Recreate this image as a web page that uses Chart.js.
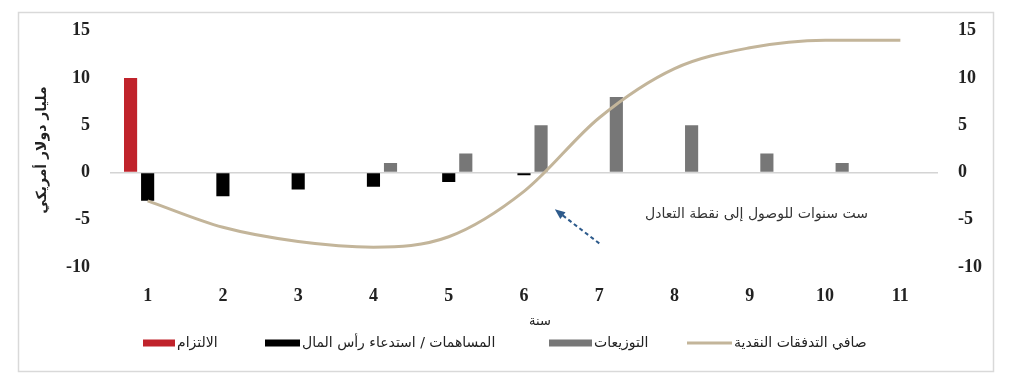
<!DOCTYPE html>
<html lang="ar">
<head>
<meta charset="utf-8">
<script src="https://cdn.jsdelivr.net/npm/chart.js@4.4.1/dist/chart.umd.min.js"></script>
<style>
  html, body { margin: 0; padding: 0; background: #fff; }
  #wrap { width: 1024px; height: 374px; position: relative; }
</style>
</head>
<body>
<div id="wrap"><canvas id="c" width="1024" height="374"></canvas></div>
<script>
// Years of the fund's life
const years = ['1', '2', '3', '4', '5', '6', '7', '8', '9', '10', '11'];

// Cash flows, billions of US dollars
const commitment    = [10, null, null, null, null, null, null, null, null, null, null];
const contributions = [-3, -2.5, -1.8, -1.5, -1, -0.3, null, null, null, null, null];
const distributions = [null, null, null, 1, 2, 5, 8, 5, 2, 1, null];
const netCashFlow   = [-3, -5.8, -7.3, -7.9, -6.8, -2, 5.8, 11, 13.2, 14, 14];

// Value axis ticks
const yTicks = [-10, -5, 0, 5, 10, 15];

const seriesNames = ['الالتزام', 'المساهمات / استدعاء رأس المال', 'التوزيعات', 'صافي التدفقات النقدية'];
const yTitle = 'مليار دولار أمريكي';
const xTitle = 'سنة';
const noteText = 'ست سنوات للوصول إلى نقطة التعادل';

const RED = '#C0232B', BLACK = '#000000', GREY = '#777777', TAN = '#C3B59A';
const arabicFont = '"DejaVu Sans", "Noto Sans", sans-serif';
const numFont = { family: '"Liberation Serif", "DejaVu Serif", serif', size: 18, weight: 'bold' };

// Frame, titles, break-even note and legend drawn on the canvas
const decorations = {
  id: 'decorations',
  beforeDraw(chart) {
    const ctx = chart.ctx;
    ctx.save();
    ctx.fillStyle = '#fff';
    ctx.fillRect(0, 0, chart.width, chart.height);
    ctx.strokeStyle = '#D9D9D9';
    ctx.lineWidth = 1.5;
    ctx.strokeRect(18.5, 12.5, 975, 359);
    ctx.restore();
  },
  afterDatasetsDraw(chart) {
    const ctx = chart.ctx;
    const xs = chart.scales.x, ys = chart.scales.y;
    ctx.save();

    // dashed arrow pointing at the break-even crossing
    const x0 = xs.getPixelForValue(6.0), y0 = ys.getPixelForValue(-7.5);
    const x1 = xs.getPixelForValue(5.41), y1 = ys.getPixelForValue(-3.9);
    const ang = Math.atan2(y1 - y0, x1 - x0);
    const head = 11;
    ctx.strokeStyle = '#2E5B8C';
    ctx.fillStyle = '#2E5B8C';
    ctx.lineWidth = 2;
    ctx.setLineDash([4, 3]);
    ctx.beginPath();
    ctx.moveTo(x0, y0);
    ctx.lineTo(x1 - Math.cos(ang) * head * 0.8, y1 - Math.sin(ang) * head * 0.8);
    ctx.stroke();
    ctx.setLineDash([]);
    ctx.beginPath();
    ctx.moveTo(x1, y1);
    ctx.lineTo(x1 - Math.cos(ang - 0.4) * head, y1 - Math.sin(ang - 0.4) * head);
    ctx.lineTo(x1 - Math.cos(ang + 0.4) * head, y1 - Math.sin(ang + 0.4) * head);
    ctx.closePath();
    ctx.fill();

    // note text
    ctx.fillStyle = '#333';
    ctx.font = '14px ' + arabicFont;
    ctx.direction = 'rtl';
    ctx.textAlign = 'right';
    ctx.textBaseline = 'middle';
    ctx.fillText(noteText, xs.getPixelForValue(9.57), ys.getPixelForValue(-4.4));
    ctx.restore();
  },
  afterDraw(chart) {
    const ctx = chart.ctx;
    ctx.save();
    ctx.direction = 'rtl';
    ctx.textBaseline = 'middle';
    ctx.fillStyle = '#222';

    // value axis title, rotated
    ctx.save();
    ctx.translate(42, 150);
    ctx.rotate(-Math.PI / 2);
    ctx.textAlign = 'center';
    ctx.font = 'bold 14px ' + arabicFont;
    ctx.fillText(yTitle, 0, 0);
    ctx.restore();

    // category axis title
    ctx.textAlign = 'center';
    ctx.font = '13px ' + arabicFont;
    ctx.fillText(xTitle, 540, 322);

    // legend
    const items = [
      { name: seriesNames[0], color: RED,   x: 143, w: 32, h: 7 },
      { name: seriesNames[1], color: BLACK, x: 265, w: 35, h: 7 },
      { name: seriesNames[2], color: GREY,  x: 549, w: 43, h: 7 },
      { name: seriesNames[3], color: TAN,   x: 687, w: 45, h: 3 }
    ];
    const ly = 343;
    ctx.font = '14px ' + arabicFont;
    ctx.textAlign = 'left';
    items.forEach(it => {
      ctx.fillStyle = it.color;
      ctx.fillRect(it.x, ly - it.h / 2, it.w, it.h);
      ctx.fillStyle = '#222';
      ctx.fillText(it.name, it.x + it.w + 2, ly);
    });
    ctx.restore();
  }
};

new Chart(document.getElementById('c'), {
  data: {
    labels: years,
    datasets: [
      { type: 'bar', label: seriesNames[0], data: commitment, backgroundColor: RED, order: 1,
        barPercentage: 0.77, categoryPercentage: 0.68 },
      { type: 'bar', label: seriesNames[1], data: contributions, backgroundColor: BLACK, order: 1,
        barPercentage: 0.77, categoryPercentage: 0.68 },
      { type: 'bar', label: seriesNames[2], data: distributions, backgroundColor: GREY, order: 1,
        barPercentage: 0.77, categoryPercentage: 0.68 },
      { type: 'line', label: seriesNames[3], data: netCashFlow, borderColor: TAN, borderWidth: 3,
        pointRadius: 0, cubicInterpolationMode: 'monotone', fill: false, order: 0 }
    ]
  },
  options: {
    responsive: false,
    animation: false,
    devicePixelRatio: 1,
    layout: { padding: { top: 28, left: 0, right: 0, bottom: 0 } },
    plugins: { legend: { display: false }, tooltip: { enabled: false } },
    scales: {
      x: {
        offset: true,
        grid: { display: false, drawTicks: false },
        border: { display: false },
        ticks: { color: '#222', font: numFont, padding: 19, maxRotation: 0 },
        afterFit(s) { s.height = 107; }
      },
      y: {
        position: 'left',
        min: -10, max: 15,
        afterBuildTicks(s) { s.ticks = yTicks.map(v => ({ value: v })); },
        grid: {
          drawTicks: false,
          color: c => (c.tick && c.tick.value === 0 ? '#D4D4D4' : 'rgba(0,0,0,0)'),
          lineWidth: 1.5
        },
        border: { display: false },
        ticks: { color: '#222', font: numFont, padding: 20 },
        afterFit(s) { s.width = 110; }
      },
      y2: {
        position: 'right',
        min: -10, max: 15,
        afterBuildTicks(s) { s.ticks = yTicks.map(v => ({ value: v })); },
        grid: { display: false, drawTicks: false },
        border: { display: false },
        ticks: { color: '#222', font: numFont, padding: 20 },
        afterFit(s) { s.width = 86; }
      }
    }
  },
  plugins: [decorations]
});
</script>
</body>
</html>
